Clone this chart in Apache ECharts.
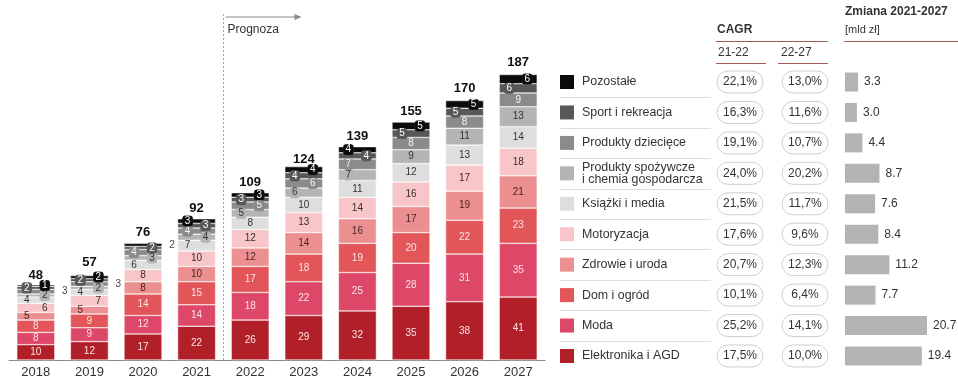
<!DOCTYPE html>
<html><head><meta charset="utf-8">
<script src="https://cdn.jsdelivr.net/npm/echarts@6/dist/echarts.min.js"></script>
<style>html,body{margin:0;padding:0;background:#fff}#c{width:958px;height:379px}</style>
</head><body><div id="c"></div>
<script>
// ---------- DATA ----------
const years = ['2018','2019','2020','2021','2022','2023','2024','2025','2026','2027'];
const totals = [48, 57, 76, 92, 109, 124, 139, 155, 170, 187];
// categories listed top-to-bottom as in the legend
const categories = ['Pozostałe','Sport i rekreacja','Produkty dziecięce','Produkty spożywcze\ni chemia gospodarcza','Książki i media','Motoryzacja','Zdrowie i uroda','Dom i ogród','Moda','Elektronika i AGD'];
const pozostale   = [1, 2, 2, 3, 3, 4, 4, 5, 5, 6];
const sport       = [2, 2, 2, 3, 3, 4, 4, 5, 5, 6];
const dzieciece   = [3, 3, 4, 4, 5, 6, 7, 8, 8, 9];
const spozywcze   = [2, 2, 3, 4, 5, 6, 7, 9, 11, 13];
const ksiazki     = [4, 4, 6, 7, 8, 10, 11, 12, 13, 14];
const motoryzacja = [6, 7, 8, 10, 12, 13, 14, 16, 17, 18];
const zdrowie     = [5, 5, 8, 10, 12, 14, 16, 17, 19, 21];
const dom         = [8, 9, 14, 15, 17, 18, 19, 20, 22, 23];
const moda        = [8, 9, 12, 14, 18, 22, 25, 28, 31, 35];
const elektronika = [10, 12, 17, 22, 26, 29, 32, 35, 38, 41];
const cagr2122 = ['22,1%','16,3%','19,1%','24,0%','21,5%','17,6%','20,7%','10,1%','25,2%','17,5%'];
const cagr2227 = ['13,0%','11,6%','10,7%','20,2%','11,7%','9,6%','12,3%','6,4%','14,1%','10,0%'];
const change   = [3.3, 3.0, 4.4, 8.7, 7.6, 8.4, 11.2, 7.7, 20.7, 19.4];
const headers = {cagr:'CAGR', c1:'21-22', c2:'22-27', zm:'Zmiana 2021-2027', unit:'[mld zł]', prog:'Prognoza'};

// ---------- STYLE ----------
const valuesTopDown = [pozostale, sport, dzieciece, spozywcze, ksiazki, motoryzacja, zdrowie, dom, moda, elektronika];
const colors = ['#0b0b0b','#585858','#8b8b8b','#b4b4b4','#dedede','#f8c6c8','#ec8f91','#e25659','#de4868','#b11f29'];
const textColors = ['#ffffff','#ffffff','#f4f4f4','#333333','#333333','#3a2a2a','#4a2426','#fbe4e4','#fbe4e4','#fbe4e4'];
const FONT = '"Liberation Sans", Arial, sans-serif';
const G0 = {left: 9, right: 413, top: 53, bottom: 17};
const YMAX = 200;
const K = (379 - G0.top - G0.bottom) / YMAX;
const G1 = {left: 845, right: 14, top: 66.8, bottom: 7.8};
const XMAX1 = 25;

const chart = echarts.init(document.getElementById('c'), null, {renderer: 'canvas'});

// label placement rule (pixel-based greedy, avoids overlaps)
const N = categories.length;
const bottomUpIdx = [];
for (let i = N - 1; i >= 0; i--) bottomUpIdx.push(i);
const placement = {};
bottomUpIdx.forEach(i => placement[i] = []);
for (let j = 0; j < years.length; j++) {
  let cum = 0;
  const last = {left: -99, right: -99, out: -99};
  for (const i of bottomUpIdx) {
    const v = valuesTopDown[i][j];
    const h = v * K, c = (cum + v / 2) * K;
    cum += v;
    let pos;
    if (h >= 11 && c - last.left >= 10 && c - last.right >= 10) {
      pos = 'center'; last.left = last.right = c;
    } else {
      pos = ['left', 'right', 'out'].find(p => c - last[p] >= 10) || 'out';
      last[pos] = c;
    }
    placement[i].push(pos);
  }
}
const offX = {center: 0, left: -9, right: 9, out: 29};

const barSeries = bottomUpIdx.map(i => ({
  name: categories[i].replace('\n', ' '),
  type: 'bar', stack: 'total', xAxisIndex: 0, yAxisIndex: 0,
  barWidth: 38,
  itemStyle: {color: colors[i], borderColor: '#ffffff', borderWidth: 0.5},
  data: valuesTopDown[i].map((v, j) => {
    const p = placement[i][j];
    const lab = {show: true, position: 'inside', offset: [offX[p], 0], fontSize: 10, fontFamily: FONT,
      color: p === 'out' ? '#444' : textColors[i]};
    if (p !== 'center' && p !== 'out' && i <= 3) {
      Object.assign(lab, {backgroundColor: colors[i], padding: [0, 2], borderRadius: 2,
        borderColor: i === 0 ? '#222' : colors[i], borderWidth: 0.5});
    }
    return {value: v, label: lab};
  })
}));

const option = {
  animation: false,
  textStyle: {fontFamily: FONT},
  grid: [
    {left: G0.left, right: G0.right, top: G0.top, bottom: G0.bottom, containLabel: false},
    {left: G1.left, right: G1.right, top: G1.top, bottom: G1.bottom, containLabel: false}
  ],
  xAxis: [
    {type: 'category', gridIndex: 0, data: years,
     axisLine: {lineStyle: {color: '#8a8a8a', width: 1}}, axisTick: {show: false},
     axisLabel: {fontSize: 13, color: '#333', margin: 6, fontFamily: FONT}},
    {type: 'value', gridIndex: 1, min: 0, max: XMAX1, show: false}
  ],
  yAxis: [
    {type: 'value', gridIndex: 0, min: 0, max: YMAX, show: false},
    {type: 'category', gridIndex: 1, data: categories.map(c => c.replace('\n', ' ')), inverse: true, show: false}
  ],
  series: [
    ...barSeries,
    {type: 'scatter', name: 'Suma', xAxisIndex: 0, yAxisIndex: 0, symbolSize: 0, data: totals, z: 5,
     itemStyle: {color: '#111', opacity: 1},
     label: {show: true, position: 'top', distance: 4, fontSize: 13, fontWeight: 'bold', color: '#111', opacity: 1, fontFamily: FONT}},
    {type: 'bar', name: 'Zmiana 2021-2027', xAxisIndex: 1, yAxisIndex: 1, data: change, barWidth: 19,
     itemStyle: {color: '#b3b3b3'},
     label: {show: true, position: 'right', distance: 6, fontSize: 12, color: '#333', fontFamily: FONT,
       formatter: p => p.value.toFixed(1)}}
  ]
};
chart.setOption(option);

// ---------- table / annotations ----------
const g = [];
const rowY = i => chart.convertToPixel({gridIndex: 1}, [0, i])[1];
const xa = chart.convertToPixel({xAxisIndex: 0}, 3), xb = chart.convertToPixel({xAxisIndex: 0}, 4);
const divX = Math.round((xa + xb) / 2) + 0.5;
const baseY = chart.convertToPixel({yAxisIndex: 0}, 0);
g.push({type: 'line', shape: {x1: divX, y1: 14, x2: divX, y2: baseY}, style: {stroke: '#a8a8a8', lineWidth: 1, lineDash: [2, 2]}});
g.push({type: 'line', shape: {x1: divX + 2, y1: 17, x2: divX + 76, y2: 17}, style: {stroke: '#8a8a8a', lineWidth: 1}});
g.push({type: 'polygon', shape: {points: [[divX + 78, 17], [divX + 71, 14], [divX + 71, 20]]}, style: {fill: '#8a8a8a'}});
g.push({type: 'text', x: divX + 4, y: 30, style: {text: headers.prog, font: '12px ' + FONT, fill: '#333', textVerticalAlign: 'middle'}});

// headers
const hdrLine = '#a05a5a';
g.push({type: 'text', x: 717, y: 30, style: {text: headers.cagr, font: 'bold 12px ' + FONT, fill: '#333', textVerticalAlign: 'middle'}});
g.push({type: 'line', shape: {x1: 716, y1: 41.5, x2: 828, y2: 41.5}, style: {stroke: hdrLine, lineWidth: 1}});
g.push({type: 'text', x: 718, y: 53, style: {text: headers.c1, font: '12px ' + FONT, fill: '#333', textVerticalAlign: 'middle'}});
g.push({type: 'text', x: 781, y: 53, style: {text: headers.c2, font: '12px ' + FONT, fill: '#333', textVerticalAlign: 'middle'}});
g.push({type: 'line', shape: {x1: 716, y1: 63.5, x2: 766, y2: 63.5}, style: {stroke: hdrLine, lineWidth: 1}});
g.push({type: 'line', shape: {x1: 778, y1: 63.5, x2: 828, y2: 63.5}, style: {stroke: hdrLine, lineWidth: 1}});
g.push({type: 'text', x: 845, y: 12, style: {text: headers.zm, font: 'bold 12px ' + FONT, fill: '#333', textVerticalAlign: 'middle'}});
g.push({type: 'text', x: 845, y: 30, style: {text: headers.unit, font: '11px ' + FONT, fill: '#333', textVerticalAlign: 'middle'}});
g.push({type: 'line', shape: {x1: 844, y1: 41.5, x2: 958, y2: 41.5}, style: {stroke: hdrLine, lineWidth: 1}});

categories.forEach((name, i) => {
  const y = rowY(i);
  g.push({type: 'rect', shape: {x: 560, y: y - 7, width: 14, height: 14}, style: {fill: colors[i]}});
  g.push({type: 'text', x: 582, y: y, style: {text: name, font: '12.4px ' + FONT, fill: '#333', textVerticalAlign: 'middle', lineHeight: 12}});
  if (i < N - 1) g.push({type: 'line', shape: {x1: 560, y1: Math.round(y + 15.2) + 0.5, x2: 711, y2: Math.round(y + 15.2) + 0.5}, style: {stroke: '#dddddd', lineWidth: 1}});
  [[740, cagr2122[i]], [805, cagr2227[i]]].forEach(([cx, t]) => {
    g.push({type: 'rect', shape: {x: cx - 23, y: y - 11, width: 46, height: 22, r: 11}, style: {fill: '#fff', stroke: '#cfcfcf', lineWidth: 1}});
    g.push({type: 'text', x: cx, y: y, style: {text: t, font: '12px ' + FONT, fill: '#333', textAlign: 'center', textVerticalAlign: 'middle'}});
  });
});
chart.setOption({graphic: g});
</script>
</body></html>
